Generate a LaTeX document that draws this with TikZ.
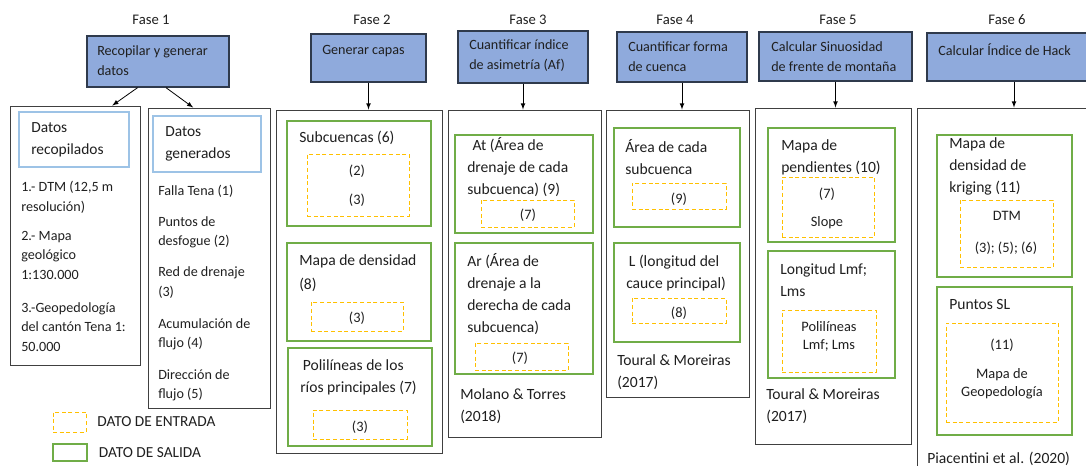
\documentclass[tikz,border=0pt]{standalone}
\usepackage{fontspec}
\setmainfont{Carlito}
\usetikzlibrary{positioning}
\usetikzlibrary{fit}
\usetikzlibrary{arrows}
\definecolor{tareafill}{HTML}{8FAADC}
\definecolor{tareaedge}{HTML}{2F3A4C}
\definecolor{salida}{HTML}{70AD47}
\definecolor{entrada}{HTML}{FFC000}
\definecolor{cabecera}{HTML}{9DC3E6}

\begin{document}
\begin{tikzpicture}[x=0.75pt,y=-0.75pt,
    every node/.style={inner sep=0pt,text=black!88},
    tarea/.style={draw=tareaedge,fill=tareafill,line width=1pt},
    columna/.style={draw=black!75,line width=0.7pt},
    cabeza/.style={draw=cabecera,line width=0.8pt},
    salidabox/.style={draw=salida,line width=1.5pt},
    entradabox/.style={draw=entrada,line width=0.7pt,dash pattern=on 3pt off 2pt},
    txt/.style={anchor=north west,align=left,font=\fontsize{10.6}{#1}\selectfont},
    txt/.default=16.5,
    big/.style={anchor=north west,align=left,font=\fontsize{11.7}{#1}\selectfont},
    big/.default=16.5,
    cabtxt/.style={anchor=north west,align=left,font=\fontsize{11.6}{16.5}\selectfont},
    mini/.style={align=center,font=\fontsize{10.8}{13.5}\selectfont},
    fase/.style={font=\fontsize{11}{13}\selectfont},
    arr/.style={-latex,line width=0.6pt}]
\useasboundingbox (0,0) rectangle (1086,466);
\clip (0,0) rectangle (1086,466);

\foreach \n/\x in {1/151,2/372,3/528,4/675,5/838,6/1007}
    \node[fase] (fase\n) at (\x,20) {Fase \n};

% tareas
\node[tarea,fit={(87,36) (229,87)}] (tarea1) {};
\node[tarea,fit={(311,34) (426,82)}] (tarea2) {};
\node[tarea,fit={(458,31) (588,83)}] (tarea3) {};
\node[tarea,fit={(617,32) (747,82)}] (tarea4) {};
\node[tarea,fit={(759,32) (912,81)}] (tarea5) {};
\node[tarea,fit={(927,33) (1101,81)}] (tarea6) {};
\node[txt=15] (t1) at (97,45) {Recopilar y generar\\datos};
\node[txt=15] (t2) at (322,45) {Generar capas};
\node[txt=15] (t3) at (469,39) {Cuantificar índice\\de asimetría (Af)};
\node[txt=15] (t4) at (628,41) {Cuantificar forma\\de cuenca};
\node[txt=15] (t5) at (771,41) {Calcular Sinuosidad\\de frente de montaña};
\node[txt=15] (t6) at (938,43) {Calcular Índice de Hack};

% columnas
\node[columna,fit={(10,106) (140,365)}] (col1) {};
\node[columna,fit={(148,108) (270,408)}] (col1b) {};
\node[columna,fit={(276,110) (442,453)}] (col2) {};
\node[columna,fit={(448,110) (601,437)}] (col3) {};
\node[columna,fit={(606,110) (749,397)}] (col4) {};
\node[columna,fit={(755,108) (911,444)}] (col5) {};
\node[columna,fit={(917,108) (1101,490)}] (col6) {};

\draw[arr] (tarea1.232) -- (col1.74);
\draw[arr] (tarea1.287) -- (col1b.96);
\foreach \n in {2,...,6}
    \draw[arr] (tarea\n) -- (tarea\n |- col\n.north);

% fase 1
\node[cabeza,fit={(19,112) (129,167)}] (recop) {};
\node[cabtxt] (recop txt) at (31,122) {Datos\\recopilados};
\node[txt=14.6] (dtm) at (21,181) {1.- DTM (12,5 m\\resolución)};
\node[txt=14.6] (geol) at (21,231) {2.- Mapa\\geológico\\1:130.000};
\node[txt=14.6] (geoped) at (21,302) {3.-Geopedología\\del cantón Tena 1:\\50.000};
\node[cabeza,fit={(153,116) (261,172)}] (gener) {};
\node[cabtxt] (gener txt) at (165,126) {Datos\\generados};
\node[txt] (falla) at (158,185) {Falla Tena (1)};
\node[txt=14.3] (puntos) at (158,216) {Puntos de\\desfogue (2)};
\node[txt=15.5] (red) at (158,266) {Red de drenaje\\(3)};
\node[txt=14.3] (acum) at (158,318) {Acumulación de\\flujo (4)};
\node[txt=14.3] (dir) at (158,369) {Dirección de\\flujo (5)};

% fase 2
\node[salidabox,fit={(287,121) (431,226)}] (subc) {};
\node[big] (subc txt) at (299,131) {Subcuencas (6)};
\node[entradabox,fit={(307,154) (409,216)}] (subc in) {};
\node[mini] (subc a) at (357,171) {(2)};
\node[mini] (subc b) at (357,200) {(3)};
\node[salidabox,fit={(287,243) (431,341)}] (dens) {};
\node[big=18] (dens txt) at (299,254) {Mapa de densidad\\(8)};
\node[entradabox,fit={(311,302) (403,331)}] (dens in) {};
\node[mini] (dens a) at (357,318) {(3)};
\node[salidabox,fit={(288,348) (432,446)}] (poli) {};
\node[big=17] (poli txt) at (300,359) {\hspace{2pt}Polilíneas de los\\ríos principales (7)};
\node[entradabox,fit={(313,410) (407,439)}] (poli in) {};
\node[mini] (poli a) at (360,427) {(3)};

% fase 3
\node[salidabox,fit={(455,135) (593,233)}] (at) {};
\node[big] (at txt) at (467,137) {\hspace{4pt}At (Área de\\drenaje de cada\\subcuenca) (9)};
\node[entradabox,fit={(481,200) (574,227)}] (at in) {};
\node[mini] (at a) at (528,215) {(7)};
\node[salidabox,fit={(455,243) (593,374)}] (ar) {};
\node[big] (ar txt) at (467,253) {Ar (Área de\\drenaje a la\\derecha de cada\\subcuenca)};
\node[entradabox,fit={(475,343) (568,370)}] (ar in) {};
\node[mini] (ar a) at (520,358) {(7)};
\node[big] (molano) at (460,388) {Molano \& Torres\\(2018)};

% fase 4
\node[salidabox,fit={(614,128) (740,227)}] (area) {};
\node[big] (area txt) at (625,139) {Área de cada\\subcuenca};
\node[entradabox,fit={(632,183) (726,209)}] (area in) {};
\node[mini] (area a) at (679,199) {(9)};
\node[salidabox,fit={(614,243) (740,342)}] (long) {};
\node[big] (long txt) at (626,255) {\hspace{2pt}L (longitud del\\cauce principal)};
\node[entradabox,fit={(632,298) (726,323)}] (long in) {};
\node[mini] (long a) at (679,313) {(8)};
\node[big] (toural1) at (617,354) {Toural \& Moreiras\\(2017)};

% fase 5
\node[salidabox,fit={(768,128) (895,242)}] (pend) {};
\node[big] (pend txt) at (781,139) {Mapa de\\pendientes (10)};
\node[entradabox,fit={(782,177) (874,237)}] (pend in) {};
\node[mini] (pend a) at (827,194) {(7)};
\node[mini] (pend b) at (827,223) {Slope};
\node[salidabox,fit={(768,251) (895,378)}] (lmf) {};
\node[big] (lmf txt) at (780,263) {Longitud Lmf;\\Lms};
\node[entradabox,fit={(782,310) (876,372)}] (lmf in) {};
\node[mini] (lmf a) at (829,336) {Polilíneas\\Lmf; Lms};
\node[big] (toural2) at (766,388) {Toural \& Moreiras\\(2017)};

% fase 6
\node[salidabox,fit={(937,135) (1072,277)}] (krig) {};
\node[big] (krig txt) at (949,137) {Mapa de\\densidad de\\kriging (11)};
\node[entradabox,fit={(960,200) (1053,267)}] (krig in) {};
\node[mini] (krig a) at (1007,216) {DTM};
\node[mini] (krig b) at (1006,248) {(3); (5); (6)};
\node[salidabox,fit={(937,287) (1072,435)}] (sl) {};
\node[big] (sl txt) at (949,299) {Puntos SL};
\node[entradabox,fit={(946,323) (1058,422)}] (sl in) {};
\node[mini] (sl a) at (1002,345) {(11)};
\node[mini] (sl b) at (1002,384) {Mapa de\\Geopedología};
\node[big] (piac) at (927,452) {Piacentini et al. (2020)};

% leyenda
\node[entradabox,fit={(53,412) (86,432)}] (ley1) {};
\node[txt,right=8pt of ley1,font=\fontsize{11.5}{14}\selectfont] (ley1 txt) {DATO DE ENTRADA};
\node[salidabox,fit={(53,444) (87,461)}] (ley2) {};
\node[txt,right=8pt of ley2,font=\fontsize{11.5}{14}\selectfont] (ley2 txt) {DATO DE SALIDA};
\end{tikzpicture}
\end{document}
